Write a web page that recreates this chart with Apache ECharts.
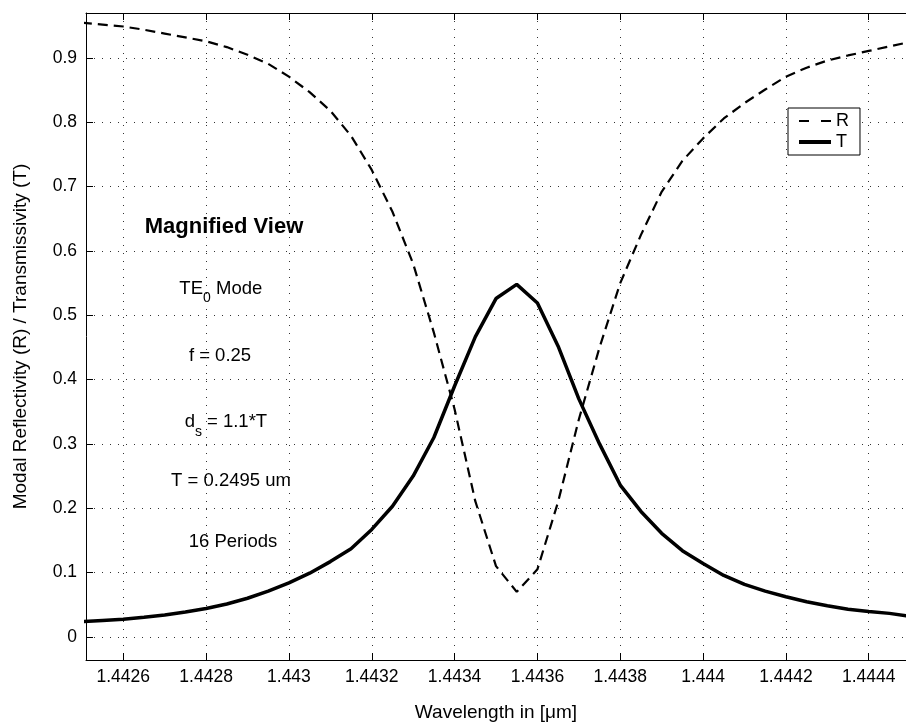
<!DOCTYPE html>
<html>
<head>
<meta charset="utf-8">
<script src="https://cdn.jsdelivr.net/npm/echarts@6/dist/echarts.min.js"></script>
<style>
  html, body { margin: 0; padding: 0; background: #fff; }
  #main { width: 906px; height: 727px; }
</style>
</head>
<body>
<div id="main"></div>
<script>
// wavelength samples (um)
var wavelength = [
    1.4425, 1.44255, 1.4426, 1.44265, 1.4427, 1.44275, 1.4428, 1.44285, 1.4429, 1.44295,
    1.443, 1.44305, 1.4431, 1.44315, 1.4432, 1.44325, 1.4433, 1.44335, 1.4434, 1.44345,
    1.4435, 1.44355, 1.4436, 1.44365, 1.4437, 1.44375, 1.4438, 1.44385, 1.4439, 1.44395,
    1.444, 1.44405, 1.4441, 1.44415, 1.4442, 1.44425, 1.4443, 1.44435, 1.4444, 1.44445, 1.4445
];
// modal reflectivity R
var reflect = [
    0.955, 0.952, 0.949, 0.944, 0.938, 0.932, 0.926, 0.917, 0.905, 0.891,
    0.871, 0.847, 0.818, 0.779, 0.726, 0.661, 0.580, 0.473, 0.354, 0.211,
    0.110, 0.070, 0.105, 0.210, 0.338, 0.450, 0.550, 0.625, 0.692, 0.740,
    0.775, 0.806, 0.830, 0.851, 0.871, 0.885, 0.896, 0.904, 0.911, 0.918, 0.925
];
// modal transmissivity T
var transmit = [
    0.0235, 0.0255, 0.0275, 0.0305, 0.034, 0.0385, 0.044, 0.051, 0.060, 0.071,
    0.084, 0.099, 0.117, 0.137, 0.167, 0.203, 0.250, 0.310, 0.390, 0.4665,
    0.526, 0.548, 0.519, 0.452, 0.370, 0.300, 0.236, 0.195, 0.161, 0.134,
    0.114, 0.0955, 0.0815, 0.071, 0.0623, 0.0545, 0.0485, 0.043, 0.0393, 0.0365, 0.032
];

var xMin = 1.44251, xMax = 1.44449;
var yMin = -0.036, yMax = 0.97;

function pairs(xs, ys) {
    var out = [];
    for (var i = 0; i < xs.length; i++) {
        out.push([xs[i], ys[i]]);
    }
    return out;
}

var FONT = '"Liberation Sans", Arial, Helvetica, sans-serif';
var gridDots = {
    show: true,
    lineStyle: { color: '#333', width: 1, type: [1, 7] }
};

var option = {
    animation: false,
    backgroundColor: '#fff',
    textStyle: { fontFamily: FONT, color: '#000' },
    grid: { left: 86, right: -2, top: 13, bottom: 66, containLabel: false },
    legend: {
        orient: 'vertical',
        left: 788,
        top: 108,
        padding: [4, 11, 4, 9],
        itemGap: 3,
        itemWidth: 32,
        itemHeight: 16,
        backgroundColor: '#fff',
        borderColor: '#000',
        borderWidth: 1,
        borderRadius: 0,
        itemStyle: { opacity: 0 },
        textStyle: { fontFamily: FONT, fontSize: 18, color: '#000' },
        data: [
            { name: 'R', itemStyle: { opacity: 0 }, lineStyle: { color: '#000', width: 2, type: [10, 12] } },
            { name: 'T', itemStyle: { opacity: 0 }, lineStyle: { color: '#000', width: 4 } }
        ]
    },
    xAxis: [
        {
            type: 'value',
            min: xMin,
            max: xMax,
            splitNumber: 10,
            name: 'Wavelength in [\u03bcm]',
            nameLocation: 'middle',
            nameGap: 43,
            nameTextStyle: { fontFamily: FONT, fontSize: 19, color: '#000' },
            axisLine: { show: true, onZero: false, lineStyle: { color: '#000', width: 1 } },
            axisTick: { show: true, inside: true, length: 7, lineStyle: { color: '#000' } },
            axisLabel: {
                fontFamily: FONT, fontSize: 17.5, color: '#000', margin: 8,
                showMinLabel: false, showMaxLabel: false
            },
            splitLine: gridDots
        },
        {
            type: 'value',
            position: 'top',
            min: xMin,
            max: xMax,
            splitNumber: 10,
            axisLine: { show: true, onZero: false, lineStyle: { color: '#000', width: 1 } },
            axisTick: { show: true, inside: true, length: 7, lineStyle: { color: '#000' } },
            axisLabel: { show: false },
            splitLine: { show: false }
        }
    ],
    yAxis: {
        type: 'value',
        min: yMin,
        max: yMax,
        splitNumber: 10,
        name: 'Modal Reflectivity (R) / Transmissivity (T)',
        nameLocation: 'middle',
        nameGap: 56,
        nameTextStyle: { fontFamily: FONT, fontSize: 19, color: '#000' },
        axisLine: { show: true, onZero: false, lineStyle: { color: '#000', width: 1 } },
        axisTick: { show: true, inside: true, length: 7, lineStyle: { color: '#000' } },
        axisLabel: {
            fontFamily: FONT, fontSize: 17.5, color: '#000', margin: 9,
            showMinLabel: false, showMaxLabel: false
        },
        splitLine: gridDots
    },
    series: [
        {
            name: 'R',
            type: 'line',
            symbol: 'none',
            smooth: false,
            clip: true,
            lineStyle: { color: '#000', width: 2.2, type: [10, 6] },
            itemStyle: { color: '#000' },
            data: pairs(wavelength, reflect)
        },
        {
            name: 'T',
            type: 'line',
            symbol: 'none',
            smooth: false,
            clip: true,
            lineStyle: { color: '#000', width: 3.5 },
            itemStyle: { color: '#000' },
            data: pairs(wavelength, transmit)
        }
    ],
    graphic: [
        { type: 'text', x: 224, y: 227, style: { text: 'Magnified View', fontFamily: FONT, fontSize: 22, fontWeight: 'bold', fill: '#000', align: 'center', verticalAlign: 'middle' } },
        { type: 'text', x: 203, y: 289, style: { text: 'TE', fontFamily: FONT, fontSize: 18.5, fill: '#000', align: 'right', verticalAlign: 'middle' } },
        { type: 'text', x: 203, y: 298, style: { text: '0', fontFamily: FONT, fontSize: 14, fill: '#000', align: 'left', verticalAlign: 'middle' } },
        { type: 'text', x: 216, y: 289, style: { text: 'Mode', fontFamily: FONT, fontSize: 18.5, fill: '#000', align: 'left', verticalAlign: 'middle' } },
        { type: 'text', x: 220, y: 356, style: { text: 'f = 0.25', fontFamily: FONT, fontSize: 18.5, fill: '#000', align: 'center', verticalAlign: 'middle' } },
        { type: 'text', x: 195, y: 422, style: { text: 'd', fontFamily: FONT, fontSize: 18.5, fill: '#000', align: 'right', verticalAlign: 'middle' } },
        { type: 'text', x: 195, y: 432, style: { text: 's', fontFamily: FONT, fontSize: 14, fill: '#000', align: 'left', verticalAlign: 'middle' } },
        { type: 'text', x: 207, y: 422, style: { text: '= 1.1*T', fontFamily: FONT, fontSize: 18.5, fill: '#000', align: 'left', verticalAlign: 'middle' } },
        { type: 'text', x: 231, y: 481, style: { text: 'T = 0.2495 um', fontFamily: FONT, fontSize: 18.5, fill: '#000', align: 'center', verticalAlign: 'middle' } },
        { type: 'text', x: 233, y: 542, style: { text: '16 Periods', fontFamily: FONT, fontSize: 18.5, fill: '#000', align: 'center', verticalAlign: 'middle' } }
    ]
};

var chart = echarts.init(document.getElementById('main'), null, { renderer: 'canvas' });
chart.setOption(option);
</script>
</body>
</html>
